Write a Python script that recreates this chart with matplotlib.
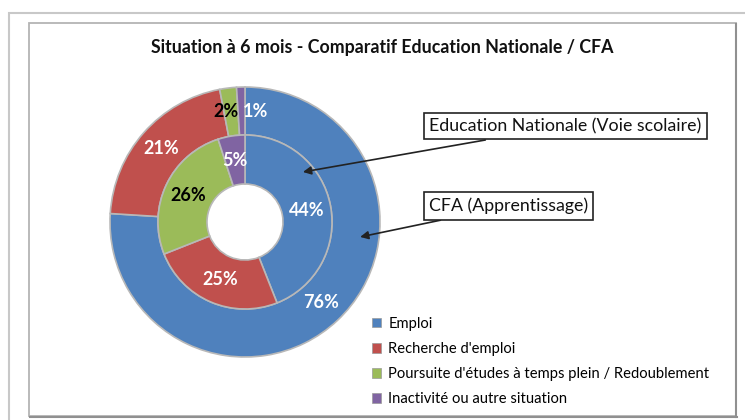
import numpy as np
import matplotlib
matplotlib.use('Agg')
import matplotlib.pyplot as plt
from matplotlib.patches import Rectangle

# Data
categories = ['Emploi', "Recherche d'emploi",
              "Poursuite d'études à temps plein / Redoublement",
              'Inactivité ou autre situation']
cfa_values = [76, 21, 2, 1]          # outer ring - CFA (Apprentissage)
en_values = [44, 25, 26, 5]          # inner ring - Education Nationale
ring_names = ['Education Nationale (Voie scolaire)', 'CFA (Apprentissage)']
title = 'Situation à 6 mois - Comparatif Education Nationale / CFA'

colors = ['#4F81BD', '#C0504D', '#9BBB59', '#8064A2']
label_colors = ['white', 'white', 'black', 'white']

W, H = 745, 420
plt.rcParams['font.family'] = ['Lato', 'DejaVu Sans']

fig = plt.figure(figsize=(W / 100, H / 100), dpi=100)
fig.patch.set_facecolor('white')


def fx(x):
    return x / W


def fy(y):
    return 1 - y / H


# frames
fig.add_artist(Rectangle((fx(8.5), fy(430)), fx(800), 430 / H - 12.5 / H,
                         transform=fig.transFigure, fill=False,
                         edgecolor='#C8C8C8', lw=1.5))
fig.add_artist(Rectangle((fx(29), fy(416)), fx(707), (416 - 22.5) / H,
                         transform=fig.transFigure, fill=False,
                         edgecolor='#B4B4B4', lw=1.3))
fig.add_artist(plt.Line2D([fx(736), fx(736)], [fy(24), fy(417)],
                          transform=fig.transFigure, color='#909090', lw=1.5))
fig.add_artist(plt.Line2D([fx(30), fx(737)], [fy(417), fy(417)],
                          transform=fig.transFigure, color='#909090', lw=1.5))

# pie axes: center (245, 222), outer radius 135 px
cx, cy, R = 245, 222, 135
ax = fig.add_axes([fx(cx - R), fy(cy + R), 2 * R / W, 2 * R / H])
ax.axis('off')

r_mid = 87 / R
r_hole = 38 / R
wedge_kw = dict(edgecolor='#B8B8B8', linewidth=1.2)

ax.pie(cfa_values, radius=1.0, colors=colors, startangle=90, counterclock=False,
       wedgeprops=dict(width=1.0 - r_mid, **wedge_kw))
ax.pie(en_values, radius=r_mid, colors=colors, startangle=90, counterclock=False,
       wedgeprops=dict(width=r_mid - r_hole, **wedge_kw))
ax.set_xlim(-1, 1)
ax.set_ylim(-1, 1)


def ring_labels(values, r_in, r_out, nudges):
    total = float(sum(values))
    start = 90.0
    rl = (r_in + r_out) / 2
    for v, col, nd in zip(values, label_colors, nudges):
        span = v / total * 360
        mid = np.deg2rad(start - span / 2)
        start -= span
        ax.text(rl * np.cos(mid) + nd, rl * np.sin(mid), f'{v}%',
                ha='center', va='center', color=col, fontsize=13,
                fontweight='bold')


ring_labels(cfa_values, r_mid, 1.0, [0, 0, -0.04, 0.1])
ring_labels(en_values, r_hole, r_mid, [0, 0, 0, 0])

# annotation boxes with arrows
box_kw = dict(boxstyle='square,pad=0.3', fc='white', ec='#222222', lw=1.2)
targets = [(0.567, 40.8), (0.86, -7.4)]
box_pos = [(429, 126), (429, 206)]
for name, (tr, ta), (bx, by) in zip(ring_names, targets, box_pos):
    ax.annotate(name,
                xy=(tr * np.cos(np.deg2rad(ta)), tr * np.sin(np.deg2rad(ta))),
                xycoords='data',
                xytext=(fx(bx), fy(by)), textcoords='figure fraction',
                ha='left', va='center', fontsize=12.8, color='#111111',
                bbox=box_kw,
                arrowprops=dict(arrowstyle='-|>', color='#222222', lw=1.2,
                                mutation_scale=12, shrinkA=0, shrinkB=0))

# title
fig.text(fx(382), fy(48), title, ha='center', va='center', fontsize=12.8,
         fontweight='bold', color='#111111')

# legend
handles = [Rectangle((0, 0), 1, 1, fc=c, ec='#9a9a9a', lw=0.5) for c in colors]
fig.legend(handles, categories, loc='upper left',
           bbox_to_anchor=(fx(372), fy(317)), frameon=False, fontsize=10.6,
           handlelength=0.6, handleheight=0.6, handletextpad=0.5,
           labelspacing=0.75, borderaxespad=0, borderpad=0)

fig.savefig('out.png', dpi=100)
